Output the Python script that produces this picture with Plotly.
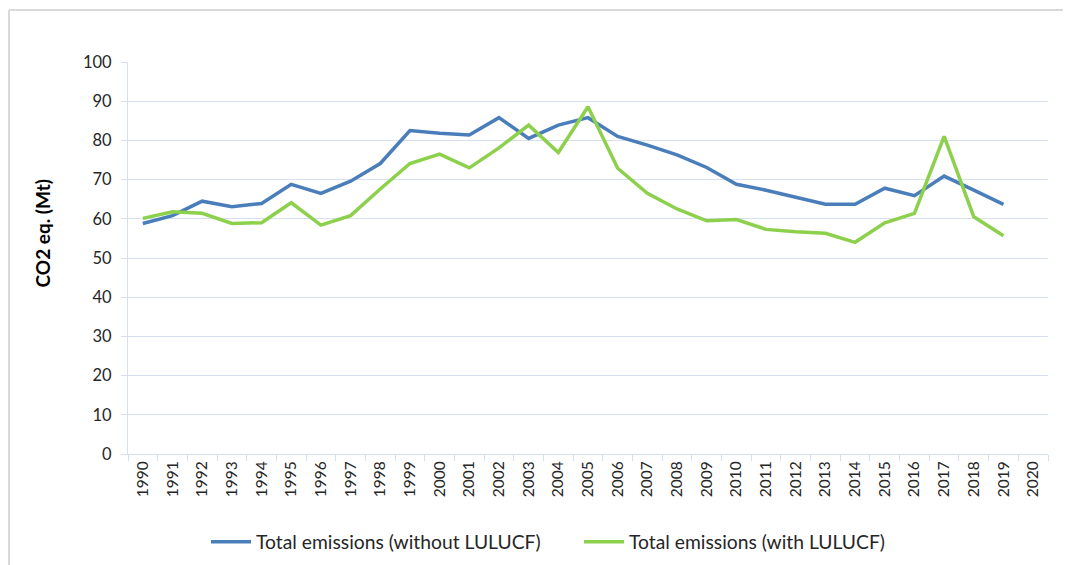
import plotly.graph_objects as go

years = [str(y) for y in range(1990, 2021)]
without_lulucf = [58.8, 60.8, 64.5, 63.1, 63.9, 68.8, 66.5, 69.6, 74.1, 82.5,
                  81.8, 81.4, 85.8, 80.5, 83.9, 85.8, 81.0, 78.8, 76.3, 73.1,
                  68.8, 67.3, 65.5, 63.7, 63.7, 67.8, 65.9, 70.9, 67.3, 63.7, None]
with_lulucf = [60.1, 61.8, 61.4, 58.8, 59.0, 64.1, 58.4, 60.8, 67.6, 74.1,
               76.5, 73.0, 78.1, 83.9, 76.9, 88.6, 72.9, 66.5, 62.5, 59.5,
               59.8, 57.3, 56.7, 56.3, 54.0, 59.0, 61.4, 81.0, 60.5, 55.7, None]
y_title = "CO2 eq. (Mt)"

FONT = "Lato"
TXT = "#262626"
GRID = "#d6e0f0"

W, H = 1063, 557
L, R, T, B = 120, 23, 54, 111
PW, PH = W - L - R, H - T - B

fig = go.Figure()
fig.add_trace(go.Scatter(x=years, y=without_lulucf, mode="lines",
                         name="Total emissions (without LULUCF)",
                         line=dict(color="#4a7ebb", width=3.5)))
fig.add_trace(go.Scatter(x=years, y=with_lulucf, mode="lines",
                         name="Total emissions (with LULUCF)",
                         line=dict(color="#8cd04c", width=3.5)))

fig.update_layout(
    width=W, height=H,
    margin=dict(l=L, r=R, t=T, b=B),
    paper_bgcolor="white", plot_bgcolor="white",
    font=dict(family=FONT, color=TXT, size=16),
    showlegend=True,
    legend=dict(orientation="h", x=198 / W, xanchor="left", xref="container",
                y=0.006, yanchor="bottom", yref="container",
                font=dict(size=19.3, family=FONT, color=TXT),
                itemwidth=40, tracegroupgap=0,
                entrywidth=318, entrywidthmode="pixels"),
    xaxis=dict(type="category", categoryorder="array", categoryarray=years,
               range=[-0.5, 30.5], showgrid=False, showline=True,
               linecolor=GRID, linewidth=1, ticks="outside", tickson="boundaries",
               ticklen=6, tickcolor=GRID, tickangle=-90,
               tickfont=dict(size=15.5, family=FONT, color=TXT)),
    yaxis=dict(range=[0, 100], dtick=10, showgrid=True, gridcolor=GRID,
               gridwidth=1, showline=True, linecolor=GRID, linewidth=1,
               ticks="outside", ticklen=6, tickcolor=GRID, zeroline=False,
               ticklabelstandoff=6,
               tickfont=dict(size=16.5, family=FONT, color=TXT)),
)

# y-axis title (placed above the plot's vertical centre, as in the original)
fig.add_annotation(text="<b>" + y_title + "</b>", textangle=-90,
                   xref="paper", yref="paper",
                   x=(34 - L) / PW, y=(H - B - (233.5 - 8)) / PH,
                   xanchor="center", yanchor="middle", showarrow=False,
                   font=dict(size=19, family=FONT, color="#000000"))

fig.add_shape(type="line", xref="paper", yref="paper",
              x0=(1 - L) / PW, x1=(W - L) / PW,
              y0=(H - B - 2) / PH, y1=(H - B - 2) / PH,
              line=dict(color="#d9d9d9", width=2))
fig.add_shape(type="line", xref="paper", yref="paper",
              x0=(1 - L) / PW, x1=(1 - L) / PW,
              y0=(H - B - 2) / PH, y1=-B / PH,
              line=dict(color="#d9d9d9", width=2))

fig.write_html("out.html")
